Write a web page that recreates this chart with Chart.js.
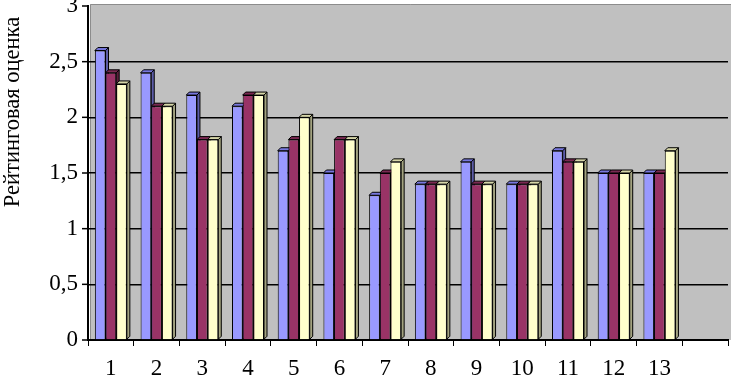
<!DOCTYPE html>
<html>
<head>
<meta charset="utf-8">
<script src="https://cdn.jsdelivr.net/npm/chart.js@4"></script>
<style>
  html, body { margin: 0; padding: 0; background: #fff; }
  #wrap { width: 732px; height: 376px; position: relative; }
</style>
</head>
<body>
<div id="wrap"><canvas id="bar-chart"></canvas></div>
<script>
const categories = ['1', '2', '3', '4', '5', '6', '7', '8', '9', '10', '11', '12', '13', ''];
const seriesA = [2.6, 2.4, 2.2, 2.1, 1.7, 1.5, 1.3, 1.4, 1.6, 1.4, 1.7, 1.5, 1.5, null];
const seriesB = [2.4, 2.1, 1.8, 2.2, 1.8, 1.8, 1.5, 1.4, 1.4, 1.4, 1.6, 1.5, 1.5, null];
const seriesC = [2.3, 2.1, 1.8, 2.2, 2.0, 1.8, 1.6, 1.4, 1.4, 1.4, 1.6, 1.5, 1.7, null];
const yTicks = [0, 0.5, 1, 1.5, 2, 2.5, 3];
const yTitle = 'Рейтинговая оценка';

// front, top, side colours for each series
const faces = [
  ['#9999FF', '#7777DD', '#5C5CA8'],
  ['#993366', '#7A2952', '#5C1F3D'],
  ['#FFFFCC', '#D6D6A8', '#A3A380']
];
const DEPTH = 3;
const FONT = '"Liberation Serif", "Times New Roman", serif';

// gray wall behind the bars
const wallPlugin = {
  id: 'wall',
  beforeDraw(chart) {
    const { ctx, chartArea: a } = chart;
    ctx.save();
    ctx.fillStyle = '#C0C0C0';
    ctx.fillRect(a.left + 2, a.top - 2, a.right - a.left + 1, a.bottom - a.top + 2);
    ctx.strokeStyle = '#8C8C8C';
    ctx.lineWidth = 1;
    ctx.beginPath();
    ctx.moveTo(a.left + 2.5, a.bottom);
    ctx.lineTo(a.left + 2.5, a.top - 1.5);
    ctx.lineTo(a.right + 3, a.top - 1.5);
    ctx.stroke();
    ctx.restore();
  }
};

// top and side faces of each bar, taken from the bar elements
const depthPlugin = {
  id: 'depth',
  beforeDatasetsDraw(chart) {
    const ctx = chart.ctx;
    ctx.save();
    ctx.lineWidth = 1;
    ctx.strokeStyle = '#000';
    chart.data.datasets.forEach((ds, di) => {
      chart.getDatasetMeta(di).data.forEach((bar, i) => {
        if (ds.data[i] == null) return;
        const p = bar.getProps(['x', 'y', 'base', 'width'], true);
        const l = p.x - p.width / 2, r = p.x + p.width / 2;
        // side
        ctx.fillStyle = faces[di][2];
        ctx.beginPath();
        ctx.moveTo(r, p.y);
        ctx.lineTo(r + DEPTH, p.y - DEPTH);
        ctx.lineTo(r + DEPTH, p.base - DEPTH);
        ctx.lineTo(r, p.base);
        ctx.closePath();
        ctx.fill();
        ctx.stroke();
        // top
        ctx.fillStyle = faces[di][1];
        ctx.beginPath();
        ctx.moveTo(l, p.y);
        ctx.lineTo(l + DEPTH, p.y - DEPTH);
        ctx.lineTo(r + DEPTH, p.y - DEPTH);
        ctx.lineTo(r, p.y);
        ctx.closePath();
        ctx.fill();
        ctx.stroke();
      });
    });
    ctx.restore();
  }
};

// rotated axis title
const titlePlugin = {
  id: 'ytitle',
  afterDraw(chart) {
    const ctx = chart.ctx;
    ctx.save();
    ctx.translate(13, 112);
    ctx.rotate(-Math.PI / 2);
    ctx.font = '22.5px ' + FONT;
    ctx.fillStyle = '#000';
    ctx.textAlign = 'center';
    ctx.textBaseline = 'middle';
    ctx.fillText(yTitle, 0, 0);
    ctx.restore();
  }
};

const mkSet = (data, i) => ({
  data: data,
  backgroundColor: faces[i][0],
  borderColor: '#000',
  borderWidth: 1,
  categoryPercentage: 0.7,
  barPercentage: 1
});

new Chart(document.getElementById('bar-chart'), {
  type: 'bar',
  data: {
    labels: categories,
    datasets: [mkSet(seriesA, 0), mkSet(seriesB, 1), mkSet(seriesC, 2)]
  },
  options: {
    responsive: true,
    maintainAspectRatio: false,
    animation: false,
    layout: { autoPadding: false, padding: { top: 6, right: 4, bottom: 0, left: 0 } },
    plugins: {
      legend: { display: false },
      tooltip: { enabled: false }
    },
    scales: {
      x: {
        grid: {
          offset: true,
          drawOnChartArea: false,
          drawTicks: true,
          tickLength: 6,
          color: '#000'
        },
        border: { display: true, color: '#000', width: 2 },
        ticks: {
          color: '#000',
          font: { family: FONT, size: 23 },
          padding: 9,
          maxRotation: 0,
          autoSkip: false
        },
        afterFit(s) {
          s.height = 36;
          s.paddingLeft = 0;
          s.paddingRight = 0;
        }
      },
      y: {
        min: 0,
        max: 3,
        afterBuildTicks(s) { s.ticks = yTicks.map(v => ({ value: v })); },
        grid: {
          color: ctx => (ctx.tick && ctx.tick.value > 0 && ctx.tick.value < 3) ? '#000' : 'rgba(0,0,0,0)',
          lineWidth: 1.5,
          drawTicks: false
        },
        border: { display: true, color: '#000', width: 2 },
        ticks: {
          color: '#000',
          font: { family: FONT, size: 23 },
          padding: 10,
          callback: v => String(v).replace('.', ',')
        },
        afterFit(s) {
          s.width = 88;
          s.paddingTop = 0;
          s.paddingBottom = 0;
        }
      }
    }
  },
  plugins: [wallPlugin, depthPlugin, titlePlugin, {
    // small outside tick marks on the value axis
    id: 'yticks',
    afterDraw(chart) {
      const { ctx, scales: { y }, chartArea: a } = chart;
      ctx.save();
      ctx.strokeStyle = '#000';
      ctx.lineWidth = 1.5;
      yTicks.forEach(v => {
        const py = y.getPixelForValue(v);
        ctx.beginPath();
        ctx.moveTo(a.left - 6, py);
        ctx.lineTo(a.left, py);
        ctx.stroke();
      });
      ctx.restore();
    }
  }]
});
</script>
</body>
</html>
